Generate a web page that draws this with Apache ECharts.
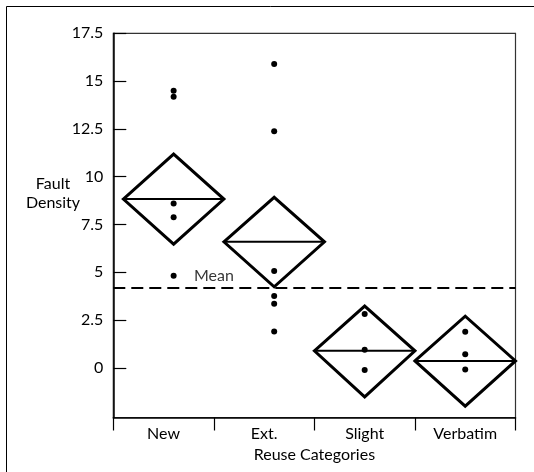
<!DOCTYPE html>
<html>
<head>
<meta charset="utf-8">
<script src="https://cdn.jsdelivr.net/npm/echarts@6/dist/echarts.min.js"></script>
<style>
html,body{margin:0;padding:0;background:#fff;}
#chart{width:534px;height:472px;}
</style>
</head>
<body>
<div id="chart"></div>
<script>
// ---- data ----
const categories = ['New', 'Ext.', 'Slight', 'Verbatim'];
const groupX = [0.6, 1.6, 2.5, 3.5];            // horizontal place of each group's points/diamond
const groupPoints = [
  [14.5, 14.18, 8.6, 7.87, 4.81],
  [15.9, 12.37, 5.07, 3.75, 3.35, 1.9],
  [2.82, 0.94, -0.11],
  [1.88, 0.71, -0.09]
];
const groupMeans = [8.83, 6.59, 0.89, 0.36];
const groupUpper = [11.18, 8.92, 3.23, 2.70];
const groupLower = [6.47, 4.24, -1.52, -2.01];
const grandMean = 4.17;
const yTicks = [0, 2.5, 5, 7.5, 10, 12.5, 15, 17.5];
const yTickLabels = ['0', '2.5', '5', '7.5', '10', '12.5', '15', '17.5'];

// ---- build ----
const FONT = 'Lato';
const FS = 16;
const pointData = [];
groupPoints.forEach((vals, i) => vals.forEach(v => pointData.push([groupX[i], v])));
const diamondData = groupX.map((x, i) => [x, groupLower[i], groupMeans[i], groupUpper[i]]);

const chart = echarts.init(document.getElementById('chart'), null, {renderer: 'canvas'});
chart.setOption({
  animation: false,
  backgroundColor: '#fff',
  textStyle: {fontFamily: FONT, color: '#000'},
  grid: {left: 113.3, top: 33.3, right: 18.5, bottom: 54.5, show: true,
         borderColor: '#333', borderWidth: 1.2, backgroundColor: 'transparent'},
  graphic: [
    {type: 'rect', shape: {x: 6.5, y: 6.5, width: 600, height: 600}, silent: true,
     style: {fill: 'none', stroke: '#000', lineWidth: 1}},
    {type: 'text', x: 53, y: 193, silent: true,
     style: {text: 'Fault\nDensity', fontFamily: FONT, fontSize: FS, fill: '#000',
             align: 'center', verticalAlign: 'middle', lineHeight: 19}}
  ],
  xAxis: [
    {type: 'category', data: categories, boundaryGap: true, position: 'bottom',
     axisLine: {show: true, onZero: false, lineStyle: {color: '#000', width: 1.5}},
     axisTick: {show: true, inside: false, length: 13, alignWithLabel: false,
                lineStyle: {color: '#000', width: 1.2}},
     axisLabel: {fontFamily: FONT, fontSize: FS, color: '#000', margin: 8},
     splitLine: {show: false},
     name: 'Reuse Categories', nameLocation: 'middle', nameGap: 27,
     nameTextStyle: {fontFamily: FONT, fontSize: FS, color: '#000'}},
    {type: 'value', min: 0, max: 4, show: false}
  ],
  yAxis: [
    {type: 'value', min: -2.6, max: 17.5,
     axisLine: {show: true, onZero: false, lineStyle: {color: '#000', width: 1.5}},
     axisTick: {show: true, inside: true, length: 13, customValues: yTicks,
                lineStyle: {color: '#000', width: 1.2}},
     axisLabel: {show: true, customValues: yTicks, margin: 10, fontFamily: FONT, fontSize: FS,
                 color: '#000', formatter: v => yTickLabels[yTicks.indexOf(v)] ?? ''},
     splitLine: {show: false}}
  ],
  series: [
    {type: 'custom', xAxisIndex: 1, yAxisIndex: 0, data: diamondData, silent: true,
     renderItem: function (params, api) {
       const x = api.value(0), lo = api.value(1), mid = api.value(2), hi = api.value(3);
       const L = api.coord([x - 0.5, mid]), R = api.coord([x + 0.5, mid]);
       const T = api.coord([x, hi]), B = api.coord([x, lo]);
       return {type: 'group', children: [
         {type: 'polygon', shape: {points: [L, T, R, B]},
          style: {fill: 'none', stroke: '#000', lineWidth: 3, lineJoin: 'miter'}},
         {type: 'line', shape: {x1: L[0], y1: L[1], x2: R[0], y2: R[1]},
          style: {stroke: '#000', lineWidth: 2}}
       ]};
     }},
    {type: 'scatter', xAxisIndex: 1, yAxisIndex: 0, data: pointData, symbol: 'circle',
     symbolSize: 6, itemStyle: {color: '#000', opacity: 1}, silent: true,
     markLine: {silent: true, symbol: 'none', label: {show: false},
                lineStyle: {color: '#000', width: 2, type: [12, 6], opacity: 1},
                data: [{yAxis: grandMean}]}},
    {type: 'scatter', xAxisIndex: 1, yAxisIndex: 0, data: [[1.0, grandMean]], symbolSize: 0,
     silent: true,
     label: {show: true, position: 'top', distance: 4, formatter: 'Mean',
             fontFamily: FONT, fontSize: FS, color: '#000'}}
  ]
});
</script>
</body>
</html>
